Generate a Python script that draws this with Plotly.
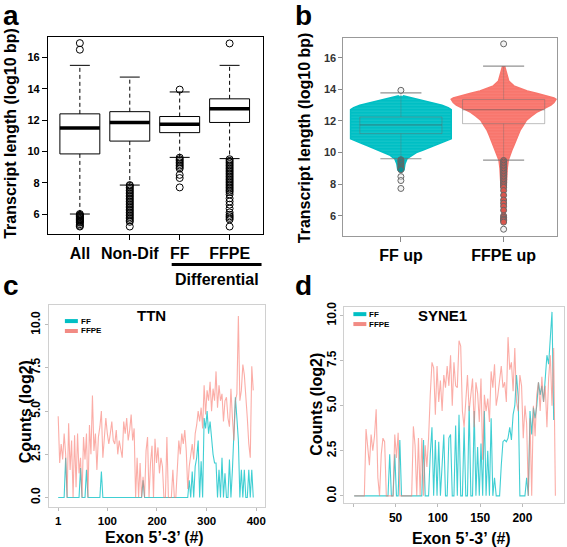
import plotly.graph_objects as go

W, H = 567, 547
FONT = "Liberation Sans, Arial, Helvetica, sans-serif"
TEAL = "#00BFC4"
SALMON = "#F8766D"

# ---------------- Panel a : box statistics ----------------
a_labels = ["All", "Non-Dif", "FF", "FFPE"]
a_q1 = [9.84, 10.66, 11.2, 11.85]
a_median = [11.5, 11.84, 11.73, 12.72]
a_q3 = [12.4, 12.54, 12.23, 13.36]
a_lower = [6.0, 7.85, 9.62, 9.54]
a_upper = [15.5, 14.75, 13.8, 15.5]
a_out_all = [16.92, 16.5, 6.0, 5.95, 5.9, 5.85, 5.8, 5.75, 5.7, 5.65, 5.6,
             5.55, 5.5, 5.45, 5.35, 5.25, 5.2]
a_out_nondif = [7.85, 7.8, 7.7, 7.6, 7.5, 7.4, 7.3, 7.2, 7.1, 7.0, 6.9, 6.8,
                6.7, 6.6, 6.5, 6.4, 6.3, 6.2, 6.1, 6.0, 5.9, 5.8, 5.7, 5.6,
                5.5, 5.2]
a_out_ff = [13.95, 9.6, 9.5, 9.4, 9.3, 9.2, 9.1, 9.0, 8.9, 8.5, 8.3, 7.7]
a_out_ffpe = [16.9, 9.5, 9.4, 9.3, 9.2, 9.1, 9.0, 8.9, 8.8, 8.7, 8.6, 8.5,
              8.4, 8.3, 8.2, 8.1, 8.0, 7.9, 7.8, 7.7, 7.6, 7.5, 7.4, 7.25,
              7.0, 6.8, 6.6, 6.35, 6.1, 5.95, 5.85, 5.75, 5.65, 5.2]

# ---------------- Panel b : swarm outlines + box statistics ----------------
b_labels = ["FF up", "FFPE up"]
b_q1 = [11.2, 11.83]
b_median = [11.75, 12.71]
b_q3 = [12.25, 13.36]
b_lower = [9.61, 9.52]
b_upper = [13.78, 15.47]
b_ff_levels = [13.6, 13.5, 13.4, 13.3, 13.15, 13.0, 12.85, 12.72, 10.87,
               10.75, 10.6, 10.45, 10.3, 10.15, 10.0, 9.85, 9.7, 9.61, 9.3, 8.9]
b_ff_halfw = [0.02, 0.08, 0.15, 0.22, 0.31, 0.4, 0.46, 0.49, 0.49, 0.45,
              0.39, 0.33, 0.27, 0.21, 0.15, 0.11, 0.08, 0.06, 0.04, 0.03]
b_ffpe_levels = [15.47, 15.2, 14.95, 14.53, 14.22, 14.05, 13.9, 13.75, 13.59,
                 13.45, 13.38, 13.17, 13.0, 12.86, 12.7, 12.55, 12.3, 12.03,
                 11.7, 11.4, 11.1, 10.77, 10.45, 10.15, 9.85, 9.52, 9.0,
                 8.5, 7.8]
b_ffpe_halfw = [0.01, 0.02, 0.03, 0.05, 0.1, 0.17, 0.23, 0.32, 0.42, 0.49,
                0.51, 0.49, 0.46, 0.42, 0.37, 0.32, 0.27, 0.22, 0.19, 0.16,
                0.14, 0.12, 0.1, 0.08, 0.06, 0.045, 0.035, 0.03, 0.025]
b_out_ff = [13.94, 9.55, 9.45, 9.35, 9.25, 9.15, 9.05, 8.98, 8.92, 8.48,
            8.23, 7.73]
b_out_ffpe = [16.88, 9.5, 9.4, 9.3, 9.2, 9.1, 9.0, 8.9, 8.8, 8.7, 8.6, 8.5,
              8.4, 8.3, 8.2, 8.1, 8.0, 7.9, 7.8, 7.6, 7.3, 7.0, 6.8, 6.6,
              6.35, 6.0, 5.9, 5.8, 5.75, 5.7, 5.6, 5.15]

# ---------------- Panel c : TTN exon counts (every 3rd exon) ----------------
ttn_step = 3
ttn_ffpe = [
    4.7, 2.0, 3.1, 2.2, 3.7, 2.5, 0.0, 4.3, 1.6, 3.3,
    0.0, 3.6, 0.6, 3.7, 1.4, 2.3, 0.0, 3.5, 2.2, 3.7,
    0.0, 4.2, 2.5, 5.9, 2.7, 3.7, 1.6, 3.5, 4.1, 5.0,
    2.3, 3.5, 4.6, 3.7, 3.1, 3.7, 4.4, 3.3, 3.1, 3.9,
    2.5, 3.3, 2.9, 2.3, 4.4, 3.7, 4.6, 3.3, 3.9, 4.8,
    3.3, 4.0, 0.0, 2.3, 0.0, 2.0, 0.0, 1.2, 0.0, 2.7,
    3.5, 0.0, 2.0, 3.0, 0.0, 3.4, 2.0, 2.9, 1.4, 2.3,
    1.8, 0.0, 0.0, 3.5, 0.0, 0.0, 0.0, 1.6, 0.0, 0.0,
    1.6, 3.3, 2.5, 3.7, 3.1, 3.9, 2.7, 0.5, 1.8, 2.5,
    3.1, 2.2, 3.7, 4.2, 5.0, 4.4, 5.2, 4.0, 6.5, 4.8,
    6.2, 5.6, 6.7, 5.0, 6.3, 5.6, 7.3, 5.2, 6.5, 5.6,
    6.0, 4.4, 5.6, 5.8, 4.6, 4.1, 6.3, 4.6, 3.3, 5.6,
    6.0, 10.5, 5.6, 6.2, 7.7, 7.1, 6.0, 4.6, 3.1, 2.3,
    7.6, 6.2]
ttn_ff = [
    0, 0, 0, 0, 0, 2.3, 0, 0, 0, 0,
    0, 0, 0, 0, 0, 1.7, 0, 0, 0, 1.6,
    0, 0, 0, 0, 0, 0, 0, 0, 0, 1.5,
    0, 0, 0, 0, 0, 0, 0, 0, 0, 0,
    0, 0, 0, 0, 0, 0, 0, 0, 0, 0,
    0, 0, 0, 0, 0, 0, 0, 1.0, 0, 0,
    0, 0, 0, 0, 0, 0, 0, 0, 0, 0,
    0, 0, 0, 0, 0, 0, 0, 0, 0, 0,
    0, 0, 0, 0, 0, 0, 0, 0, 1.0, 0,
    1.5, 0, 1.8, 2.3, 3.3, 0, 2.1, 0, 4.6, 4.0,
    5.0, 3.7, 4.4, 3.3, 2.5, 2.0, 2.0, 0, 1.6, 0,
    2.3, 0, 1.4, 0, 0, 2.2, 0, 1.6, 4.1, 5.8,
    4.6, 3.3, 0, 1.6, 0, 1.6, 0, 0, 1.6, 0,
    1.6, 0]

# ---------------- Panel d : SYNE1 exon counts (every 2nd exon) ----------------
syne_step = 2
syne_ffpe = [
    0, 0, 0, 0, 0, 0, 0, 3.7, 2.8, 1.7,
    3.4, 2.5, 3.3, 4.8, 1.0, 0, 2.3, 3.2, 3.0, 0,
    0, 0, 0, 0, 3.4, 2.1, 3.5, 0, 0, 0,
    0, 0, 0, 0, 0, 3.85, 2.8, 0, 3.2, 0,
    3.2, 0, 2.8, 1.6, 3.2, 5.6, 7.4, 7.1, 4.5, 7.2,
    5.2, 6.4, 4.7, 6.7, 6.0, 7.2, 6.1, 7.8, 5.0, 7.4,
    6.1, 6.0, 8.6, 8.3, 4.7, 3.8, 5.2, 6.7, 4.7, 5.6,
    6.5, 3.8, 6.3, 5.7, 4.1, 6.5, 2.0, 5.6, 4.7, 5.4,
    4.1, 6.9, 6.0, 7.3, 5.0, 5.6, 6.5, 7.2, 6.0, 6.3,
    5.2, 8.8, 7.0, 7.4, 5.8, 8.2, 5.2, 4.7, 6.7, 6.1,
    3.2, 5.0, 4.0, 0, 4.3, 0, 5.0, 3.3, 5.6, 6.3,
    4.7, 6.6, 5.2, 6.1, 3.8, 6.5, 7.8, 5.0, 8.2, 0]
syne_ff = [
    0, 0, 0, 0, 0, 0, 0, 0, 0, 0,
    0, 0, 0, 0, 0, 0, 0, 0, 0, 0,
    0, 2.3, 0, 0, 2.3, 0, 0, 3.1, 0, 0,
    0, 0, 0, 0, 0, 0, 0, 0, 0, 0,
    0, 3.1, 0, 0, 0, 2.3, 3.8, 0, 3.1, 0,
    3.0, 0, 1.5, 3.4, 0, 0, 3.2, 3.4, 0, 0,
    3.9, 0, 4.5, 0, 0, 3.8, 0, 0, 5.0, 0,
    0, 4.7, 0, 2.7, 0, 2.9, 0, 4.7, 0, 2.5,
    0, 4.3, 0, 1.0, 0, 0, 0, 1.7, 3.0, 3.1,
    3.0, 3.2, 3.8, 3.1, 4.5, 5.0, 6.7, 5.5, 0, 0,
    0, 0, 1.0, 0, 4.7, 3.4, 4.9, 4.3, 5.0, 6.3,
    5.6, 6.1, 5.2, 6.5, 7.8, 7.3, 8.5, 10.2, 4.2]


def px_x(v):
    return v / W


def px_y(v):
    return 1 - v / H


def dom_x(a, b):
    return [px_x(a), px_x(b)]


def dom_y(top, bottom):
    return [px_y(bottom), px_y(top)]


fig = go.Figure()

# ---------- panel a traces ----------
bx, by, mx, my, wx, wy, cx, cy = [], [], [], [], [], [], [], []
for i in range(len(a_labels)):
    p = i + 1
    bx += [p - 0.4, p + 0.4, p + 0.4, p - 0.4, p - 0.4, None]
    by += [a_q1[i], a_q1[i], a_q3[i], a_q3[i], a_q1[i], None]
    mx += [p - 0.4, p + 0.4, None]
    my += [a_median[i], a_median[i], None]
    wx += [p, p, None, p, p, None]
    wy += [a_q3[i], a_upper[i], None, a_q1[i], a_lower[i], None]
    cx += [p - 0.2, p + 0.2, None, p - 0.2, p + 0.2, None]
    cy += [a_upper[i], a_upper[i], None, a_lower[i], a_lower[i], None]
fig.add_trace(go.Scatter(x=wx, y=wy, mode="lines", xaxis="x", yaxis="y",
                         line=dict(color="black", width=1, dash="4px,3px")))
fig.add_trace(go.Scatter(x=cx, y=cy, mode="lines", xaxis="x", yaxis="y",
                         line=dict(color="black", width=1)))
fig.add_trace(go.Scatter(x=bx, y=by, mode="lines", xaxis="x", yaxis="y",
                         line=dict(color="black", width=1)))
fig.add_trace(go.Scatter(x=mx, y=my, mode="lines", xaxis="x", yaxis="y",
                         line=dict(color="black", width=3.5)))
for i, outs in enumerate([a_out_all, a_out_nondif, a_out_ff, a_out_ffpe]):
    fig.add_trace(go.Scatter(x=[i + 1] * len(outs), y=outs, mode="markers",
                             xaxis="x", yaxis="y",
                             marker=dict(size=7, color="rgba(255,255,255,0)",
                                         line=dict(color="black", width=1))))

# ---------- panel b traces ----------
for i, (lev, hw, col, stripe) in enumerate([
        (b_ff_levels, b_ff_halfw, TEAL, "rgba(120,225,228,0.55)"),
        (b_ffpe_levels, b_ffpe_halfw, SALMON, "rgba(255,170,165,0.55)")]):
    p = i + 1
    xs = [p - w for w in hw] + [p + w for w in reversed(hw)]
    ys = list(lev) + list(reversed(lev))
    fig.add_trace(go.Scatter(x=xs, y=ys, mode="lines", fill="toself",
                             fillcolor=col, xaxis="x2", yaxis="y2",
                             fillpattern=dict(shape="-", fgcolor=stripe,
                                              bgcolor=col, size=3,
                                              solidity=0.25),
                             line=dict(color=col, width=1.5)))
bx, by, wx, wy, cx, cy, mx, my = [], [], [], [], [], [], [], []
for i in range(2):
    p = i + 1
    bx += [p - 0.4, p + 0.4, p + 0.4, p - 0.4, p - 0.4, None]
    by += [b_q1[i], b_q1[i], b_q3[i], b_q3[i], b_q1[i], None]
    mx += [p - 0.4, p + 0.4, None]
    my += [b_median[i], b_median[i], None]
    wx += [p, p, None, p, p, None]
    wy += [b_q3[i], b_upper[i], None, b_q1[i], b_lower[i], None]
    cx += [p - 0.2, p + 0.2, None, p - 0.2, p + 0.2, None]
    cy += [b_upper[i], b_upper[i], None, b_lower[i], b_lower[i], None]
fig.add_trace(go.Scatter(x=wx, y=wy, mode="lines", xaxis="x2", yaxis="y2",
                         line=dict(color="rgba(110,110,110,0.35)", width=1)))
fig.add_trace(go.Scatter(x=bx, y=by, mode="lines", xaxis="x2", yaxis="y2",
                         line=dict(color="rgba(110,110,110,0.45)", width=1)))
fig.add_trace(go.Scatter(x=mx, y=my, mode="lines", xaxis="x2", yaxis="y2",
                         line=dict(color="rgba(90,90,90,0.6)", width=1)))
fig.add_trace(go.Scatter(x=cx, y=cy, mode="lines", xaxis="x2", yaxis="y2",
                         line=dict(color="rgba(110,110,110,0.75)", width=1.2)))
for i, (outs, fc, cut) in enumerate([(b_out_ff, "#0E8F93", 8.7),
                                     (b_out_ffpe, "#D9564D", 5.5)]):
    cols = [fc if (v >= cut and v < b_upper[i]) else "rgba(235,235,235,0.6)"
            for v in outs]
    fig.add_trace(go.Scatter(x=[i + 1] * len(outs), y=outs, mode="markers",
                             xaxis="x2", yaxis="y2",
                             marker=dict(size=6, color=cols,
                                         line=dict(color="#666", width=1))))

# ---------- panel c traces ----------
ttn_x_ff = list(range(1, 1 + ttn_step * len(ttn_ff), ttn_step))
ttn_x_ffpe = list(range(1, 1 + ttn_step * len(ttn_ffpe), ttn_step))
fig.add_trace(go.Scatter(x=ttn_x_ff, y=ttn_ff, mode="lines", xaxis="x3", yaxis="y3",
                         line=dict(color="rgba(0,191,196,0.75)", width=1.1)))
fig.add_trace(go.Scatter(x=ttn_x_ffpe, y=ttn_ffpe, mode="lines", xaxis="x3", yaxis="y3",
                         line=dict(color="rgba(248,118,109,0.6)", width=1.1)))

# ---------- panel d traces ----------
sy_x_ff = list(range(1, 1 + syne_step * len(syne_ff), syne_step))
sy_x_ffpe = list(range(1, 1 + syne_step * len(syne_ffpe), syne_step))
fig.add_trace(go.Scatter(x=sy_x_ff, y=syne_ff, mode="lines", xaxis="x4", yaxis="y4",
                         line=dict(color="rgba(0,191,196,0.75)", width=1.1)))
fig.add_trace(go.Scatter(x=sy_x_ffpe, y=syne_ffpe, mode="lines", xaxis="x4", yaxis="y4",
                         line=dict(color="rgba(248,118,109,0.6)", width=1.1)))

bold = dict(family=FONT, weight="bold")

layout = dict(
    width=W, height=H, margin=dict(l=0, r=0, t=0, b=0),
    paper_bgcolor="white", plot_bgcolor="white", showlegend=False,
    font=dict(family=FONT, color="black"),
    # panel a
    xaxis=dict(domain=dom_x(48, 263), range=[0.36, 4.66], anchor="y",
               tickvals=[1, 2, 3, 4], ticktext=a_labels, ticks="outside",
               ticklen=5, tickcolor="black", showline=True, mirror=True,
               linecolor="black", linewidth=1, showgrid=False, zeroline=False,
               tickfont=dict(size=16, color="black", **bold)),
    yaxis=dict(domain=dom_y(32, 231), range=[4.73, 17.33], anchor="x",
               tickvals=[6, 8, 10, 12, 14, 16], ticks="outside", ticklen=5,
               tickcolor="black", showline=True, mirror=True, linecolor="black",
               linewidth=1, showgrid=False, zeroline=False,
               tickfont=dict(size=11, color="black", **bold)),
    # panel b
    xaxis2=dict(domain=dom_x(344, 558), range=[0.44, 2.52], anchor="y2",
                tickvals=[1, 2], ticktext=b_labels, ticks="outside", ticklen=5,
                tickcolor="#888", showline=True, mirror=True, linecolor="#999",
                linewidth=1, showgrid=False, zeroline=False,
                tickfont=dict(size=16, color="black", **bold)),
    yaxis2=dict(domain=dom_y(33, 233), range=[4.73, 17.27], anchor="x2",
                tickvals=[6, 8, 10, 12, 14, 16], ticks="outside", ticklen=4,
                tickcolor="#888", showline=True, mirror=True, linecolor="#999",
                linewidth=1, showgrid=False, zeroline=False,
                tickfont=dict(size=11, color="#333", **bold)),
    # panel c
    xaxis3=dict(domain=dom_x(49, 265), range=[-17.7, 416.7], anchor="y3",
                tickvals=[1, 100, 200, 300, 400], ticks="outside", ticklen=3,
                tickcolor="#bbb", showline=True, mirror=True, linecolor="#d0d0d0",
                linewidth=1, showgrid=False, zeroline=False,
                tickfont=dict(size=11.5, color="black", **bold)),
    yaxis3=dict(domain=dom_y(303, 507), range=[-0.57, 11.13], anchor="x3",
                tickvals=[0, 2.5, 5, 7.5, 10],
                ticktext=["0.0", "2.5", "5.0", "7.5", "10.0"], tickangle=-90,
                ticks="outside", ticklen=3, tickcolor="#bbb", showline=True,
                mirror=True, linecolor="#d0d0d0", linewidth=1, showgrid=False,
                zeroline=False, tickfont=dict(size=12, color="black", **bold)),
    # panel d
    xaxis4=dict(domain=dom_x(345, 565), range=[-10.6, 249.2], anchor="y4",
                tickvals=[0, 50, 100, 150, 200],
                ticktext=["", "50", "100", "150", "200"], ticks="outside",
                ticklen=3, tickcolor="#bbb", showline=True, mirror=True,
                linecolor="#d0d0d0", linewidth=1, showgrid=False, zeroline=False,
                tickfont=dict(size=12, color="black", **bold)),
    yaxis4=dict(domain=dom_y(305, 503), range=[-0.42, 10.46], anchor="x4",
                tickvals=[0, 2.5, 5, 7.5, 10],
                ticktext=["0.0", "2.5", "5.0", "7.5", "10.0"], tickangle=-90,
                ticks="outside", ticklen=3, tickcolor="#bbb", showline=True,
                mirror=True, linecolor="#d0d0d0", linewidth=1, showgrid=False,
                zeroline=False, tickfont=dict(size=12, color="black", **bold)),
)
fig.update_layout(**layout)


def ann(text, x, y, size, angle=0, xanchor="center", yanchor="middle"):
    fig.add_annotation(text=text, x=px_x(x), y=px_y(y), xref="paper",
                       yref="paper", showarrow=False, textangle=angle,
                       xanchor=xanchor, yanchor=yanchor,
                       font=dict(size=size, color="black", **bold))


# panel letters
ann("a", 1, 11, 28, xanchor="left")
ann("b", 294, 11, 28, xanchor="left")
ann("c", 1, 283, 28, xanchor="left")
ann("d", 294, 283, 28, xanchor="left")
# axis titles
ann("Transcript length (log10 bp)", 11, 129, 16, angle=-90)
ann("Transcript length (log10 bp)", 305, 134, 16, angle=-90)
ann("Counts (log2)", 25, 410, 16, angle=-90)
ann("Counts (log2)", 317, 403, 16, angle=-90)
ann("Exon 5\u2019-3\u2019 (#)", 155, 537, 16)
ann("Exon 5\u2019-3\u2019 (#)", 462, 538, 16)
ann("Differential", 217, 277, 16)
# gene titles
ann("TTN", 152, 313, 15)
ann("SYNE1", 443, 313, 15)
# legends
for (lx, ly) in [(65, 319), (354, 312)]:
    fig.add_shape(type="line", xref="paper", yref="paper",
                  x0=px_x(lx), x1=px_x(lx + 13), y0=px_y(ly), y1=px_y(ly),
                  line=dict(color=TEAL, width=4))
    fig.add_shape(type="line", xref="paper", yref="paper",
                  x0=px_x(lx), x1=px_x(lx + 13), y0=px_y(ly + 10), y1=px_y(ly + 10),
                  line=dict(color="#F28B84", width=4))
    ann("FF", lx + 14, ly, 8, xanchor="left")
    ann("FFPE", lx + 14, ly + 10, 8, xanchor="left")
# underline for "Differential"
fig.add_shape(type="line", xref="x", yref="paper", x0=2.84, x1=4.64,
              y0=px_y(262), y1=px_y(262), line=dict(color="black", width=3))

# the page's default 8px body margin would push the 567x547 figure off-window
fig.write_html("out.html", config={"displayModeBar": False},
               post_script="document.body.style.margin='0px';")
